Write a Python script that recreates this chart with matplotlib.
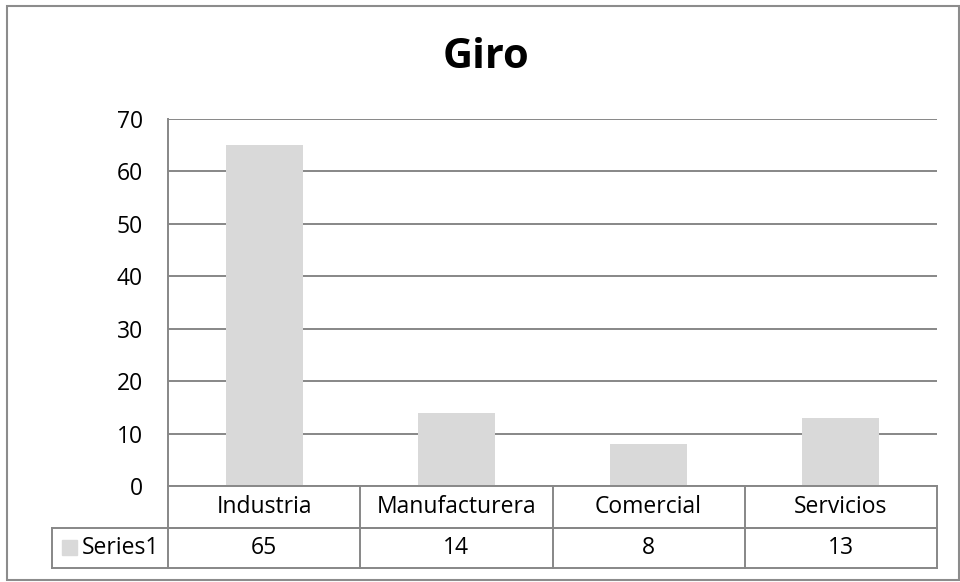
import matplotlib
matplotlib.use("Agg")
import matplotlib.pyplot as plt
import matplotlib.transforms as mtransforms
from matplotlib.patches import Rectangle
from matplotlib.lines import Line2D

# datos del grafico
categorias = ["Industria", "Manufacturera", "Comercial", "Servicios"]
valores = [65, 14, 8, 13]
serie = "Series1"
titulo = "Giro"
yticks = [0, 10, 20, 30, 40, 50, 60, 70]

plt.rcParams['font.family'] = ['Open Sans', 'DejaVu Sans']

W, H = 960, 582
fig = plt.figure(figsize=(W / 100, H / 100), dpi=100)

# area de trazado en pixeles
x0, x1 = 168, 937
ytop, ybot = 119, 486
ax = fig.add_axes([x0 / W, (H - ybot) / H, (x1 - x0) / W, (ybot - ytop) / H])

gris = "#878787"
barra = "#d9d9d9"
fs = 16.5

x = list(range(len(categorias)))
ax.bar(x, valores, width=0.4, color=barra, zorder=2)
ax.set_xlim(-0.5, len(categorias) - 0.5)
ax.set_ylim(0, 70)
ax.set_yticks(yticks)
ax.set_xticks([])
ax.yaxis.grid(True, color=gris, linewidth=1.4, zorder=1)
ax.set_axisbelow(True)
ax.tick_params(axis="y", length=0, pad=18, labelsize=fs)
for s in ["top", "right", "bottom"]:
    ax.spines[s].set_visible(False)
ax.spines["left"].set_color(gris)
ax.spines["left"].set_linewidth(1.4)

# tabla de datos bajo el eje
alto = ybot - ytop
r1 = -(528 - ybot) / alto
r2 = -(568 - ybot) / alto
x_izq = -0.5 - (x0 - 52) / ((x1 - x0) / len(categorias))
tr = mtransforms.blended_transform_factory(ax.transData, ax.transAxes)
n = len(categorias)

def linea(xs, ys):
    ax.add_line(Line2D(xs, ys, transform=tr, color=gris, linewidth=1.4,
                       clip_on=False, zorder=3))

linea([-0.5, n - 0.5], [0, 0])
linea([-0.5, n - 0.5], [r1, r1])
linea([x_izq, n - 0.5], [r1, r1])
linea([x_izq, n - 0.5], [r2, r2])
linea([x_izq, x_izq], [r1, r2])
linea([-0.5, -0.5], [0, r2])
for i in range(1, n + 1):
    linea([i - 0.5, i - 0.5], [0, r2])

for i, (c, v) in enumerate(zip(categorias, valores)):
    ax.text(i, r1 / 2, c, transform=tr, ha="center", va="center",
            fontsize=fs, clip_on=False)
    ax.text(i, (r1 + r2) / 2, str(v), transform=tr, ha="center",
            va="center", fontsize=fs, clip_on=False)

# clave de leyenda y nombre de la serie
fig.patches.append(Rectangle((62 / W, (H - 555) / H), 15 / W, 15 / H,
                             transform=fig.transFigure, color=barra))
fig.text(82 / W, (H - 548) / H, serie, ha="left", va="center", fontsize=fs)

fig.text(486 / W, (H - 57) / H, titulo, ha="center", va="center",
         fontsize=30, fontweight="bold")

# borde exterior
fig.patches.append(Rectangle((7 / W, (H - 580) / H), 952 / W, 574 / H,
                             transform=fig.transFigure, fill=False,
                             edgecolor="#8c8c8c", linewidth=1.5))

fig.savefig("out.png", dpi=100)
